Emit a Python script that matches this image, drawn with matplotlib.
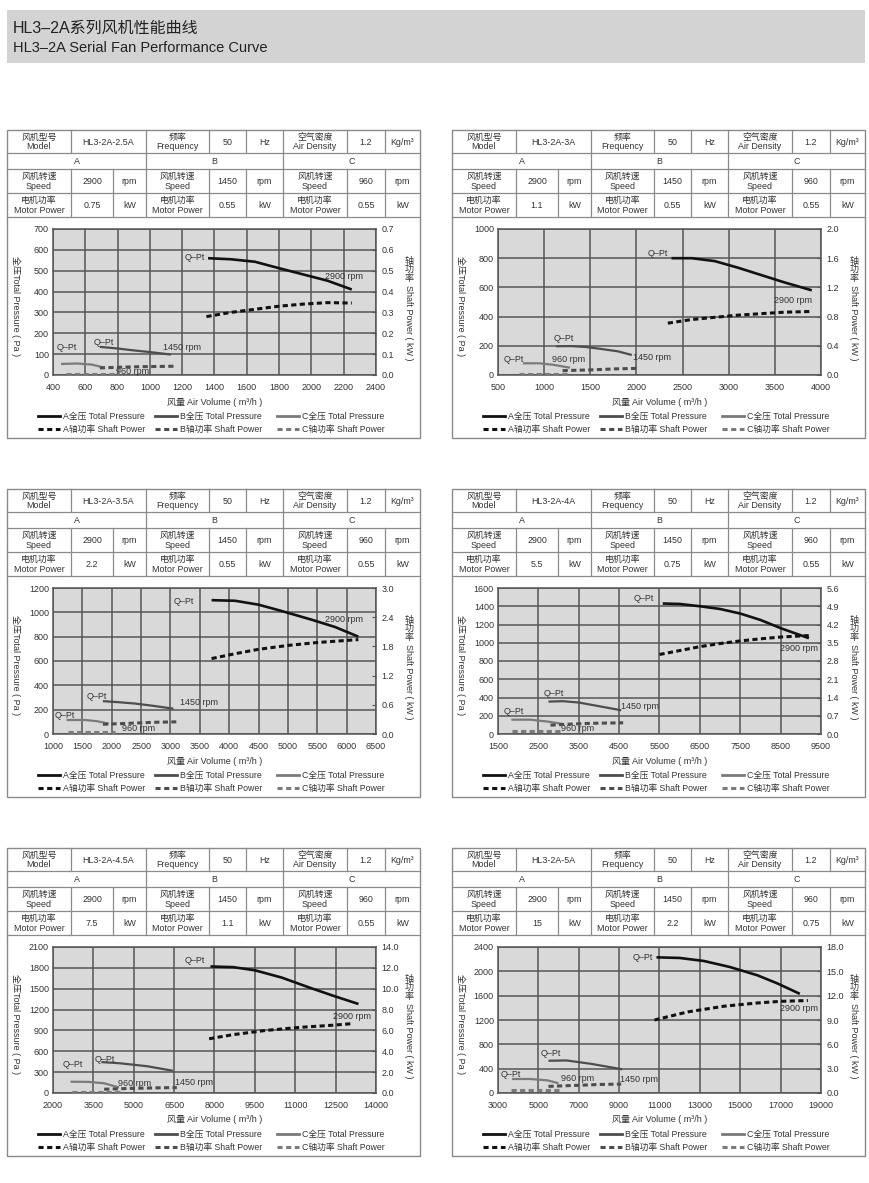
import matplotlib
matplotlib.use('Agg')
import matplotlib.pyplot as plt
from matplotlib.patches import Rectangle
from matplotlib import font_manager

FONT = ['Liberation Sans', 'Noto Sans CJK SC']
plt.rcParams['font.family'] = FONT
_names = {f.name for f in font_manager.fontManager.ttflist}
if 'Liberation Sans Narrow' in _names:
    TITLE_FONT, T1, T2 = ['Liberation Sans Narrow', 'Noto Sans CJK SC'], 12.5, 11.5
else:
    TITLE_FONT, T1, T2 = FONT, 11.5, 10.5

# ---------------- data ----------------
MODELS = ['HL3-2A-2.5A', 'HL3-2A-3A', 'HL3-2A-3.5A', 'HL3-2A-4A', 'HL3-2A-4.5A', 'HL3-2A-5A']
SPEEDS = ['2900', '1450', '960']
MOTOR_A = ['0.75', '1.1', '2.2', '5.5', '7.5', '15']
MOTOR_B = ['0.55', '0.55', '0.55', '0.75', '1.1', '2.2']
MOTOR_C = ['0.55', '0.55', '0.55', '0.55', '0.55', '0.75']

X_TICKS = [list(range(400, 2401, 200)), list(range(500, 4001, 500)),
           list(range(1000, 6501, 500)), list(range(1500, 9501, 1000)),
           list(range(2000, 14001, 1500)), list(range(3000, 19001, 2000))]
P_TICKS = [list(range(0, 701, 100)), list(range(0, 1001, 200)),
           list(range(0, 1201, 200)), list(range(0, 1601, 200)),
           list(range(0, 2101, 300)), list(range(0, 2401, 400))]
W_TICKS = [[0.0, 0.1, 0.2, 0.3, 0.4, 0.5, 0.6, 0.7], [0.0, 0.4, 0.8, 1.2, 1.6, 2.0],
           [0.0, 0.6, 1.2, 1.8, 2.4, 3.0], [0.0, 0.7, 1.4, 2.1, 2.8, 3.5, 4.2, 4.9, 5.6],
           [0.0, 2.0, 4.0, 6.0, 8.0, 10.0, 12.0, 14.0], [0.0, 3.0, 6.0, 9.0, 12.0, 15.0, 18.0]]

# HL3-2A-2.5A
A_PQ_25 = [1360, 1500, 1650, 1800, 1950, 2100, 2250]
A_P_25 = [560, 555, 543, 512, 482, 452, 410]
A_WQ_25 = [1350, 1500, 1650, 1800, 1950, 2100, 2250]
A_W_25 = [0.28, 0.30, 0.315, 0.33, 0.34, 0.347, 0.345]
B_PQ_25 = [690, 800, 900, 1000, 1130]
B_P_25 = [135, 127, 118, 110, 98]
B_WQ_25 = [690, 800, 950, 1150]
B_W_25 = [0.034, 0.037, 0.040, 0.042]
C_PQ_25 = [450, 550, 640, 720]
C_P_25 = [53, 55, 50, 35]
C_WQ_25 = [480, 650, 810]
C_W_25 = [0.004, 0.004, 0.004]

# HL3-2A-3A
A_PQ_3 = [2380, 2600, 2850, 3100, 3350, 3600, 3900]
A_P_3 = [800, 800, 780, 735, 685, 635, 580]
A_WQ_3 = [2340, 2600, 2850, 3100, 3350, 3600, 3880]
A_W_3 = [0.71, 0.76, 0.79, 0.82, 0.84, 0.86, 0.87]
B_PQ_3 = [1130, 1300, 1450, 1600, 1800, 1950]
B_P_3 = [197, 198, 192, 180, 162, 137]
B_WQ_3 = [1200, 1500, 1800, 2000]
B_W_3 = [0.06, 0.07, 0.085, 0.09]
C_PQ_3 = [770, 950, 1100, 1280]
C_P_3 = [80, 80, 70, 50]
C_WQ_3 = [730, 1000, 1250]
C_W_3 = [0.008, 0.008, 0.008]

# HL3-2A-3.5A
A_PQ_35 = [3700, 4100, 4500, 4900, 5400, 5800, 6200]
A_P_35 = [1100, 1095, 1063, 1010, 940, 880, 800]
A_WQ_35 = [3700, 4100, 4500, 5000, 5500, 6200]
A_W_35 = [1.55, 1.65, 1.74, 1.82, 1.88, 1.94]
B_PQ_35 = [1850, 2100, 2400, 2700, 3050]
B_P_35 = [270, 262, 250, 232, 208]
B_WQ_35 = [1850, 2300, 2700, 3100]
B_W_35 = [0.20, 0.22, 0.24, 0.25]
C_PQ_35 = [1230, 1550, 1750, 1950]
C_P_35 = [115, 115, 105, 85]
C_WQ_35 = [1260, 1650, 2050]
C_W_35 = [0.05, 0.05, 0.05]

# HL3-2A-4A
A_PQ_4 = [5580, 6000, 6500, 7000, 7500, 8000, 8500, 9200]
A_P_4 = [1430, 1425, 1400, 1370, 1320, 1250, 1160, 1050]
A_WQ_4 = [5500, 6000, 6500, 7000, 7500, 8000, 8500, 9250]
A_W_4 = [3.05, 3.2, 3.35, 3.47, 3.57, 3.65, 3.72, 3.78]
B_PQ_4 = [2750, 3100, 3500, 4000, 4550]
B_P_4 = [355, 360, 345, 305, 260]
B_WQ_4 = [2800, 3300, 3800, 4600]
B_W_4 = [0.34, 0.38, 0.41, 0.43]
C_PQ_4 = [1830, 2300, 2750, 3100]
C_P_4 = [157, 157, 135, 110]
C_WQ_4 = [1850, 2500, 3100]
C_W_4 = [0.10, 0.10, 0.10]

# HL3-2A-4.5A
A_PQ_45 = [7850, 8700, 9500, 10500, 11500, 12400, 13350]
A_P_45 = [1820, 1810, 1765, 1660, 1520, 1400, 1280]
A_WQ_45 = [7800, 8700, 9900, 11200, 12400, 13100]
A_W_45 = [5.2, 5.6, 6.0, 6.3, 6.5, 6.65]
B_PQ_45 = [3800, 4500, 5500, 6450]
B_P_45 = [445, 427, 385, 320]
B_WQ_45 = [3900, 5000, 6000, 6600]
B_W_45 = [0.36, 0.45, 0.50, 0.52]
C_PQ_45 = [2650, 3300, 3900, 4450]
C_P_45 = [162, 160, 140, 80]
C_WQ_45 = [2700, 3600, 4500]
C_W_45 = [0.05, 0.05, 0.05]

# HL3-2A-5A
A_PQ_5 = [10850, 12000, 13200, 14500, 15850, 16850, 17950]
A_P_5 = [2230, 2220, 2170, 2070, 1935, 1800, 1630]
A_WQ_5 = [10750, 12400, 14200, 15850, 17000, 18350]
A_W_5 = [9.0, 10.0, 10.7, 11.1, 11.3, 11.4]
B_PQ_5 = [5500, 6400, 7600, 9150]
B_P_5 = [530, 535, 480, 390]
B_WQ_5 = [5500, 7000, 8000, 9100]
B_W_5 = [0.82, 0.95, 1.05, 1.10]
C_PQ_5 = [3700, 4600, 5450, 6000]
C_P_5 = [230, 230, 208, 160]
C_WQ_5 = [3650, 4800, 6000]
C_W_5 = [0.33, 0.33, 0.33]

PRESSURE = [[(A_PQ_25, A_P_25), (B_PQ_25, B_P_25), (C_PQ_25, C_P_25)],
            [(A_PQ_3, A_P_3), (B_PQ_3, B_P_3), (C_PQ_3, C_P_3)],
            [(A_PQ_35, A_P_35), (B_PQ_35, B_P_35), (C_PQ_35, C_P_35)],
            [(A_PQ_4, A_P_4), (B_PQ_4, B_P_4), (C_PQ_4, C_P_4)],
            [(A_PQ_45, A_P_45), (B_PQ_45, B_P_45), (C_PQ_45, C_P_45)],
            [(A_PQ_5, A_P_5), (B_PQ_5, B_P_5), (C_PQ_5, C_P_5)]]
POWER = [[(A_WQ_25, A_W_25), (B_WQ_25, B_W_25), (C_WQ_25, C_W_25)],
         [(A_WQ_3, A_W_3), (B_WQ_3, B_W_3), (C_WQ_3, C_W_3)],
         [(A_WQ_35, A_W_35), (B_WQ_35, B_W_35), (C_WQ_35, C_W_35)],
         [(A_WQ_4, A_W_4), (B_WQ_4, B_W_4), (C_WQ_4, C_W_4)],
         [(A_WQ_45, A_W_45), (B_WQ_45, B_W_45), (C_WQ_45, C_W_45)],
         [(A_WQ_5, A_W_5), (B_WQ_5, B_W_5), (C_WQ_5, C_W_5)]]

# curve labels: (text, x, y) in pressure-axis data units
LABELS = [
    [('Q–Pt', 1280, 561), ('2900 rpm', 2200, 470), ('Q–Pt', 715, 157),
     ('1450 rpm', 1200, 133), ('Q–Pt', 487, 133), ('960 rpm', 890, 18)],
    [('Q–Pt', 2228, 830), ('2900 rpm', 3693, 511), ('Q–Pt', 1216, 250),
     ('1450 rpm', 2174, 120), ('Q–Pt', 674, 109), ('960 rpm', 1270, 109)],
    [('Q–Pt', 3222, 1093), ('2900 rpm', 5958, 943), ('Q–Pt', 1752, 312),
     ('1450 rpm', 3479, 263), ('Q–Pt', 1199, 153), ('960 rpm', 2453, 44)],
    [('Q–Pt', 5103, 1484), ('2900 rpm', 8962, 937), ('Q–Pt', 2888, 445),
     ('1450 rpm', 5012, 299), ('Q–Pt', 1897, 244), ('960 rpm', 3467, 62)],
    [('Q–Pt', 7252, 1904), ('2900 rpm', 13095, 1094), ('Q–Pt', 3922, 481),
     ('1450 rpm', 7252, 147), ('Q–Pt', 2718, 407), ('960 rpm', 5037, 137)],
    [('Q–Pt', 10157, 2224), ('2900 rpm', 17926, 1386), ('Q–Pt', 5612, 657),
     ('1450 rpm', 9992, 219), ('Q–Pt', 3628, 301), ('960 rpm', 6934, 236)],
]

# ---------------- layout / style ----------------
W_PX, H_PX = 870, 1183
PX0 = [7, 452, 7, 452, 7, 452]
PY0 = [130, 130, 489, 489, 848, 848]
PW, PH = 413, 308
COLS = [0, 64, 106, 139, 202, 239, 276, 340, 378, 413]
ROWS = [0, 23, 39, 63, 87]
CURVE_C = ['#111111', '#4d4d4d', '#7a7a7a']
LINE_C = '#8a8a8a'
TXT_C = '#333333'

fig = plt.figure(figsize=(W_PX / 100, H_PX / 100), dpi=100)
bg = fig.add_axes([0, 0, 1, 1], zorder=0)
bg.set_xlim(0, W_PX)
bg.set_ylim(H_PX, 0)
bg.axis('off')

bg.add_patch(Rectangle((7, 10), 858, 53, fc='#d3d3d3', ec='none'))
bg.text(13, 28, 'HL3–2A系列风机性能曲线', fontsize=T1, va='center', color='#222222',
        family=TITLE_FONT)
bg.text(13, 48, 'HL3–2A Serial Fan Performance Curve', fontsize=T2, va='center',
        color='#222222', family=TITLE_FONT)


def hline(x0, y0, a, b, y):
    bg.plot([x0 + a, x0 + b], [y0 + y, y0 + y], color=LINE_C, lw=0.9)


def vline(x0, y0, x, a, b):
    bg.plot([x0 + x, x0 + x], [y0 + a, y0 + b], color=LINE_C, lw=0.9)


def cell(x0, y0, c0, c1, r0, r1, s, size=6.4):
    bg.text(x0 + (COLS[c0] + COLS[c1]) / 2, y0 + (ROWS[r0] + ROWS[r1]) / 2 + 0.5, s,
            ha='center', va='center', fontsize=size, color=TXT_C, linespacing=1.05)


def draw_table(i, x0, y0):
    bg.add_patch(Rectangle((x0, y0), PW, PH, fill=False, ec=LINE_C, lw=1.0))
    for r in ROWS[1:]:
        hline(x0, y0, 0, PW, r)
    for c in [1, 3, 4, 5, 6, 7, 8]:
        vline(x0, y0, COLS[c], ROWS[0], ROWS[1])
    for c in [3, 6]:
        vline(x0, y0, COLS[c], ROWS[1], ROWS[2])
    for c in range(1, 9):
        vline(x0, y0, COLS[c], ROWS[2], ROWS[4])
    cell(x0, y0, 0, 1, 0, 1, '风机型号\nModel')
    cell(x0, y0, 1, 3, 0, 1, MODELS[i])
    cell(x0, y0, 3, 4, 0, 1, '频率\nFrequency')
    cell(x0, y0, 4, 5, 0, 1, '50')
    cell(x0, y0, 5, 6, 0, 1, 'Hz')
    cell(x0, y0, 6, 7, 0, 1, '空气密度\nAir Density')
    cell(x0, y0, 7, 8, 0, 1, '1.2')
    cell(x0, y0, 8, 9, 0, 1, 'Kg/m³')
    cell(x0, y0, 0, 3, 1, 2, 'A')
    cell(x0, y0, 3, 6, 1, 2, 'B')
    cell(x0, y0, 6, 9, 1, 2, 'C')
    motors = [MOTOR_A[i], MOTOR_B[i], MOTOR_C[i]]
    for k in range(3):
        c = 3 * k
        cell(x0, y0, c, c + 1, 2, 3, '风机转速\nSpeed')
        cell(x0, y0, c + 1, c + 2, 2, 3, SPEEDS[k])
        cell(x0, y0, c + 2, c + 3, 2, 3, 'rpm')
        cell(x0, y0, c, c + 1, 3, 4, '电机功率\nMotor Power')
        cell(x0, y0, c + 1, c + 2, 3, 4, motors[k])
        cell(x0, y0, c + 2, c + 3, 3, 4, 'kW')


def draw_chart(i, x0, y0):
    left, right, top, bottom = x0 + 46, x0 + 369, y0 + 99, y0 + 245
    ax = fig.add_axes([left / W_PX, 1 - bottom / H_PX, (right - left) / W_PX, (bottom - top) / H_PX],
                      zorder=1)
    ax.set_facecolor('#d9d9d9')
    xt, pt, wt = X_TICKS[i], P_TICKS[i], W_TICKS[i]
    ax.set_xlim(xt[0], xt[-1])
    ax.set_xticks(xt)
    ax.set_ylim(0, pt[-1])
    ax.set_yticks(pt)
    ax.grid(True, color='#555555', lw=1.1)
    ax.set_axisbelow(True)
    for sp in ax.spines.values():
        sp.set_color('#555555')
        sp.set_linewidth(1.1)
    ax.tick_params(axis='x', length=0, pad=5.5, labelsize=6.5, labelcolor=TXT_C)
    ax.tick_params(axis='y', length=0, pad=3, labelsize=6.5, labelcolor=TXT_C)

    ax2 = ax.twinx()
    ax2.set_ylim(0, wt[-1])
    ax2.set_yticks(wt)
    ax2.set_yticklabels(['%.1f' % v for v in wt])
    ax2.tick_params(axis='y', length=3, direction='in', width=0.8, color='#555555',
                    pad=4, labelsize=6.5, labelcolor=TXT_C)
    for sp in ax2.spines.values():
        sp.set_visible(False)

    for k in range(3):
        q, p = PRESSURE[i][k]
        ax.plot(q, p, color=CURVE_C[k], lw=1.9 if k == 0 else 1.6, solid_capstyle='butt')
        q, w = POWER[i][k]
        ax2.plot(q, w, color=CURVE_C[k], lw=2.2, ls=(0, (1.7, 1.1)), dash_capstyle='butt')
    for s, lx, ly in LABELS[i]:
        ax.text(lx, ly, s, ha='center', va='center', fontsize=6.5, color=TXT_C)

    # axis titles
    bg.text(x0 + 9, (top + bottom) / 2 + 4, '全压Total Pressure ( Pa )', rotation=270,
            ha='center', va='center', fontsize=6.5, color=TXT_C)
    for j, ch in enumerate('轴功率'):
        bg.text(x0 + 402, y0 + 131 + 8.5 * j, ch, ha='center', va='center', fontsize=6.5, color=TXT_C)
    bg.text(x0 + 402, y0 + 155, 'Shaft Power ( kW )', rotation=270,
            ha='center', va='top', fontsize=6.5, color=TXT_C)
    bg.text((left + right) / 2, y0 + 272, '风量 Air Volume ( m³/h )',
            ha='center', va='center', fontsize=6.5, color=TXT_C)

    # legend
    starts = [31, 148, 270]
    names1 = ['A全压 Total Pressure', 'B全压 Total Pressure', 'C全压 Total Pressure']
    names2 = ['A轴功率 Shaft Power', 'B轴功率 Shaft Power', 'C轴功率 Shaft Power']
    for k in range(3):
        sx = x0 + starts[k]
        bg.plot([sx, sx + 22], [y0 + 286, y0 + 286], color=CURVE_C[k], lw=2.0)
        bg.text(sx + 25, y0 + 286, names1[k], va='center', fontsize=6.3, color=TXT_C)
        bg.plot([sx, sx + 22], [y0 + 299, y0 + 299], color=CURVE_C[k], lw=2.2,
                ls=(0, (1.67, 1.17)), dash_capstyle='butt')
        bg.text(sx + 25, y0 + 299, names2[k], va='center', fontsize=6.3, color=TXT_C)


for i in range(6):
    draw_table(i, PX0[i], PY0[i])
    draw_chart(i, PX0[i], PY0[i])

fig.savefig('out.png', dpi=100)
